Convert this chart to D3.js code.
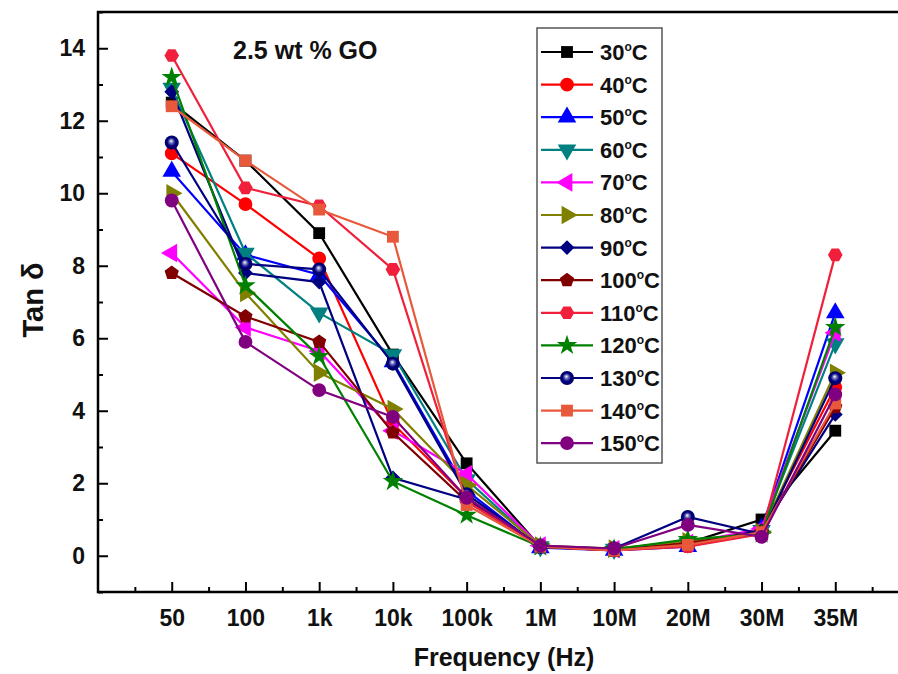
<!DOCTYPE html>
<html>
<head>
<meta charset="utf-8">
<script src="https://cdn.jsdelivr.net/npm/d3@7"></script>
<style>
  html, body { margin: 0; padding: 0; background: #fff; }
  svg { display: block; }
  text { font-family: "Liberation Sans", Arial, sans-serif; font-weight: bold; fill: #111; }
</style>
</head>
<body>
<svg id="chart" width="898" height="674"></svg>
<script>
// ---- data ----
const categories = ["50", "100", "1k", "10k", "100k", "1M", "10M", "20M", "30M", "35M"];
const yTicks = [0, 2, 4, 6, 8, 10, 12, 14];
const seriesNames = ["30", "40", "50", "60", "70", "80", "90", "100", "110", "120", "130", "140", "150"];
const t30  = [12.5, 10.9, 8.9, 5.55, 2.55, 0.25, 0.18, 0.35, 1.0, 3.45];
const t40  = [11.1, 9.7, 8.2, 3.65, 1.6, 0.25, 0.15, 0.3, 0.7, 4.65];
const t50  = [10.6, 8.3, 7.75, 5.35, 1.8, 0.22, 0.15, 0.25, 0.75, 6.7];
const t60  = [12.9, 8.35, 6.7, 5.55, 2.1, 0.25, 0.18, 0.35, 0.7, 5.85];
const t70  = [8.35, 6.3, 5.65, 3.45, 2.25, 0.28, 0.18, 0.35, 0.75, 6.15];
const t80  = [10.0, 7.25, 5.05, 4.05, 1.95, 0.28, 0.2, 0.4, 0.65, 5.05];
const t90  = [12.8, 7.8, 7.55, 2.15, 1.55, 0.25, 0.18, 0.3, 0.7, 3.9];
const t100 = [7.8, 6.6, 5.9, 3.4, 1.5, 0.25, 0.15, 0.35, 0.65, 4.1];
const t110 = [13.8, 10.15, 9.65, 7.9, 1.5, 0.25, 0.15, 0.25, 0.6, 8.3];
const t120 = [13.2, 7.45, 5.5, 2.05, 1.12, 0.25, 0.18, 0.45, 0.6, 6.3];
const t130 = [11.4, 8.05, 7.9, 5.3, 1.7, 0.25, 0.2, 1.07, 0.6, 4.9];
const t140 = [12.4, 10.9, 9.55, 8.8, 1.4, 0.25, 0.15, 0.3, 0.65, 4.2];
const t150 = [9.8, 5.9, 4.57, 3.83, 1.6, 0.28, 0.2, 0.85, 0.52, 4.45];
const seriesValues = [t30, t40, t50, t60, t70, t80, t90, t100, t110, t120, t130, t140, t150];

// ---- styles ----
const colors = ["#000000", "#ff0000", "#0000ff", "#008080", "#ff00ff", "#808000", "#000080",
                "#800000", "#f0203c", "#008000", "#000080", "#e8583a", "#800080"];
const shapes = ["square", "circle", "up", "down", "left", "right", "diamond",
                "pentagon", "hexagon", "star", "ball", "square", "circle"];

const svg = d3.select("#chart");
const W = 898, H = 674;
const L = 98, T = 12, B = 592;

const x = d3.scaleLinear().domain([-1, 10]).range([L, 909]);
const y = d3.scaleLinear().domain([-1, 15]).range([B, T]);

// gradient for ball marker
const defs = svg.append("defs");
const grad = defs.append("radialGradient").attr("id", "ball").attr("cx", "0.5").attr("cy", "0.5").attr("r", "0.5").attr("fx", "0.45").attr("fy", "0.38");
grad.append("stop").attr("offset", "0").attr("stop-color", "#ffffff");
grad.append("stop").attr("offset", "0.3").attr("stop-color", "#6a6ab8");
grad.append("stop").attr("offset", "0.6").attr("stop-color", "#000080");
grad.append("stop").attr("offset", "1").attr("stop-color", "#000060");

// ---- axes ----
const yAxis = d3.axisLeft(y).tickValues(yTicks).tickSize(-10).tickPadding(13).tickFormat(d3.format("d"));
const gy = svg.append("g").attr("transform", `translate(${L},0)`).call(yAxis);
const yMinor = d3.axisLeft(y).tickValues(d3.range(-1, 16, 2)).tickSize(-5).tickFormat("");
svg.append("g").attr("transform", `translate(${L},0)`).call(yMinor);

const xAxis = d3.axisBottom(x).tickValues(d3.range(0, 10)).tickSize(-10).tickPadding(18).tickFormat(i => categories[i]);
const gx = svg.append("g").attr("transform", `translate(0,${B})`).call(xAxis);
const xMinor = d3.axisBottom(x).tickValues(d3.range(-0.5, 10, 1)).tickSize(-5).tickFormat("");
svg.append("g").attr("transform", `translate(0,${B})`).call(xMinor);

svg.selectAll(".domain").remove();
svg.selectAll(".tick line").attr("stroke", "#000").attr("stroke-width", 2);
gy.selectAll("text").style("font-size", "23px").style("font-family", "Liberation Sans, Arial, sans-serif").style("font-weight", "bold");
gx.selectAll("text").style("font-size", "23px").style("font-family", "Liberation Sans, Arial, sans-serif").style("font-weight", "bold");

// frame
svg.append("path").attr("d", `M${W},${T}H${L}V${B}H${W}`).attr("fill", "none").attr("stroke", "#000").attr("stroke-width", 2.5);

// axis titles
svg.append("text").attr("x", 504).attr("y", 666).attr("text-anchor", "middle").style("font-size", "25px").text("Frequency (Hz)");
svg.append("text").attr("transform", "translate(43,300) rotate(-90)").attr("text-anchor", "middle").style("font-size", "29px").text("Tan δ");

// annotation
svg.append("text").attr("x", 233).attr("y", 59).style("font-size", "25px").text("2.5 wt % GO");

// ---- marker generator ----
function polygonPath(n, r, rot) {
  const pts = d3.range(n).map(k => {
    const a = rot + k * 2 * Math.PI / n;
    return [r * Math.cos(a), r * Math.sin(a)];
  });
  return d3.line()(pts) + "Z";
}
function drawMarker(g, shape, color) {
  if (shape === "square") {
    g.append("path").attr("d", d3.symbol(d3.symbolSquare, 140)()).attr("fill", color);
  } else if (shape === "circle") {
    g.append("path").attr("d", d3.symbol(d3.symbolCircle, 150)()).attr("fill", color);
  } else if (shape === "up" || shape === "down" || shape === "left" || shape === "right") {
    const rot = {up: 0, down: 180, left: -90, right: 90}[shape];
    g.append("path").attr("d", d3.symbol(d3.symbolTriangle, 150)()).attr("transform", `rotate(${rot})`).attr("fill", color);
  } else if (shape === "diamond") {
    g.append("path").attr("d", d3.symbol(d3.symbolSquare, 110)()).attr("transform", "rotate(45)").attr("fill", color);
  } else if (shape === "pentagon") {
    g.append("path").attr("d", polygonPath(5, 7.5, -Math.PI / 2)).attr("fill", color);
  } else if (shape === "hexagon") {
    g.append("path").attr("d", polygonPath(6, 7.3, 0)).attr("fill", color);
  } else if (shape === "star") {
    g.append("path").attr("d", d3.symbol(d3.symbolStar, 130)()).attr("fill", color);
  } else if (shape === "ball") {
    g.append("circle").attr("r", 7).attr("fill", "url(#ball)");
  }
}

// ---- series ----
const line = d3.line().x((d, i) => x(i)).y(d => y(d));
const plot = svg.append("g");
seriesValues.forEach((vals, s) => {
  const g = plot.append("g");
  g.append("path").attr("d", line(vals)).attr("fill", "none").attr("stroke", colors[s]).attr("stroke-width", 2.2);
  vals.forEach((v, i) => {
    const m = g.append("g").attr("transform", `translate(${x(i)},${y(v)})`);
    drawMarker(m, shapes[s], colors[s]);
  });
});

// ---- legend ----
const leg = svg.append("g");
leg.append("rect").attr("x", 537).attr("y", 28).attr("width", 125).attr("height", 435)
  .attr("fill", "#fff").attr("stroke", "#555").attr("stroke-width", 1.5);
seriesNames.forEach((name, s) => {
  const cy = 52 + s * 32.6;
  leg.append("line").attr("x1", 541).attr("x2", 593).attr("y1", cy).attr("y2", cy).attr("stroke", colors[s]).attr("stroke-width", 2.2);
  const m = leg.append("g").attr("transform", `translate(567,${cy})`);
  drawMarker(m, shapes[s], colors[s]);
  const t = leg.append("text").attr("x", 600).attr("y", cy + 8).style("font-size", "22px");
  t.append("tspan").text(name);
  t.append("tspan").attr("dy", -9).style("font-size", "12px").text("o");
  t.append("tspan").attr("dy", 9).text("C");
});
</script>
</body>
</html>
